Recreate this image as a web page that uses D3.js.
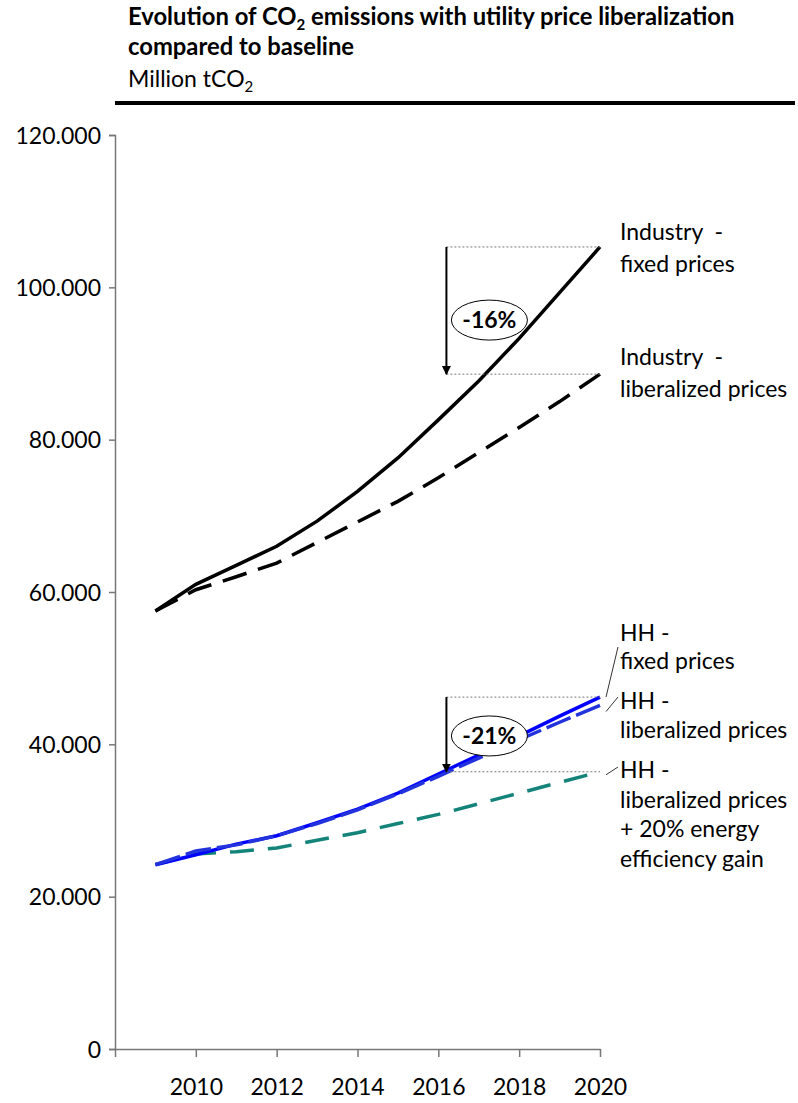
<!DOCTYPE html>
<html>
<head>
<meta charset="utf-8">
<script src="https://cdn.jsdelivr.net/npm/d3@7"></script>
<style>
  body { margin: 0; background: #fff; }
  svg text { font-family: Lato, "Open Sans", sans-serif; fill: #000; }
</style>
</head>
<body>
<svg id="chart" width="798" height="1103"></svg>
<script>
const years = [2009, 2010, 2011, 2012, 2013, 2014, 2015, 2016, 2017, 2018, 2019, 2020];
const industryFixed = [57.5, 61.0, 63.5, 66.0, 69.3, 73.2, 77.6, 82.6, 87.7, 93.3, 99.3, 105.3];
const industryLib   = [57.5, 60.3, 62.0, 63.8, 66.5, 69.2, 71.9, 75.0, 78.3, 81.6, 85.0, 88.6];
const hhFixed       = [24.2, 25.5, 26.9, 28.0, 29.7, 31.5, 33.6, 36.1, 38.6, 41.1, 43.7, 46.2];
const hhLib         = [24.2, 26.0, 26.8, 28.0, 29.6, 31.4, 33.5, 35.8, 38.2, 40.6, 42.9, 45.1];
const hhLibEff      = [24.2, 25.6, 25.9, 26.4, 27.4, 28.4, 29.6, 30.8, 32.2, 33.6, 35.0, 36.4];
const yTicks = [0, 20, 40, 60, 80, 100, 120];
const xTicks = [2010, 2012, 2014, 2016, 2018, 2020];

const FS = 23;
let svg = d3.select('#chart');

let x = d3.scaleLinear().domain([2008, 2020]).range([115, 600]);
let y = d3.scaleLinear().domain([0, 120]).range([1049, 135]);

// title block
let title = svg.append('g');
let t1 = title.append('text').attr('x', 128).attr('y', 25).attr('font-size', 23.8).attr('font-weight', 'bold');
t1.append('tspan').text('Evolution of CO');
t1.append('tspan').text('2').attr('font-size', 15).attr('dy', 5);
t1.append('tspan').text(' emissions with utility price liberalization').attr('dy', -5);
title.append('text').attr('x', 128).attr('y', 55).attr('font-size', 23.8).attr('font-weight', 'bold')
    .text('compared to baseline');
let t3 = title.append('text').attr('x', 128).attr('y', 87).attr('font-size', FS);
t3.append('tspan').text('Million tCO');
t3.append('tspan').text('2').attr('font-size', 15).attr('dy', 5);
title.append('line').attr('x1', 115).attr('x2', 795).attr('y1', 103).attr('y2', 103)
    .attr('stroke', '#000').attr('stroke-width', 4);

// axes
let yAxis = svg.append('g').attr('transform', 'translate(115,0)')
    .call(d3.axisLeft(y).tickValues(yTicks).tickSize(6).tickSizeOuter(6).tickPadding(8)
        .tickFormat(d => d === 0 ? '0' : d3.format('.3f')(d)));
yAxis.selectAll('text').attr('font-size', FS).attr('font-family', 'Lato, sans-serif')
    .attr('fill', '#000').attr('dy', '0.35em');
yAxis.selectAll('line').attr('stroke', '#777').attr('stroke-width', 1.5);
yAxis.select('.domain').attr('stroke', '#777').attr('stroke-width', 1.5);

let xAxis = svg.append('g').attr('transform', 'translate(0,' + y(0) + ')')
    .call(d3.axisBottom(x).tickValues([2008].concat(xTicks)).tickSize(8).tickSizeOuter(0).tickPadding(22)
        .tickFormat(d => d === 2008 ? '' : d));
xAxis.selectAll('text').attr('font-size', FS).attr('font-family', 'Lato, sans-serif')
    .attr('font-weight', 'normal').attr('fill', '#000');
xAxis.selectAll('line').attr('stroke', '#777').attr('stroke-width', 1.5);
xAxis.select('.domain').attr('stroke', '#777').attr('stroke-width', 1.5);

// series
let line = d3.line().x((d, i) => x(years[i])).y(d => y(d));
let series = [
    {values: hhLibEff, color: '#14837a', dash: '24,14'},
    {values: hhFixed, color: '#0000ff', dash: null},
    {values: hhLib, color: '#2233dd', dash: '26,6'},
    {values: industryLib, color: '#000', dash: '25,12'},
    {values: industryFixed, color: '#000', dash: null}
];
svg.append('g').selectAll('path').data(series).enter().append('path')
    .attr('d', s => line(s.values))
    .attr('fill', 'none')
    .attr('stroke', s => s.color)
    .attr('stroke-width', 3.5)
    .attr('stroke-dasharray', s => s.dash);

// change annotations
let arrowYear = 2016.2;
let last = years.length - 1;
let changes = [
    {from: industryFixed[last], to: industryLib[last], label: '-16%', ly: 95.7},
    {from: hhFixed[last], to: hhLibEff[last], label: '-21%', ly: 41.1}
];
let defs = svg.append('defs');
defs.append('marker').attr('id', 'arrow').attr('viewBox', '0 0 10 10')
    .attr('refX', 9).attr('refY', 5).attr('markerWidth', 4.5).attr('markerHeight', 5)
    .attr('orient', 'auto').attr('markerUnits', 'strokeWidth')
    .append('path').attr('d', 'M0,0L10,5L0,10Z').attr('fill', '#000');

let ann = svg.append('g');
changes.forEach(c => {
    [c.from, c.to].forEach(v => {
        ann.append('line').attr('x1', x(arrowYear)).attr('x2', x(2020))
            .attr('y1', y(v)).attr('y2', y(v))
            .attr('stroke', '#777').attr('stroke-width', 1).attr('stroke-dasharray', '2,2');
    });
    ann.append('line').attr('x1', x(arrowYear)).attr('x2', x(arrowYear))
        .attr('y1', y(c.from)).attr('y2', y(c.to))
        .attr('stroke', '#000').attr('stroke-width', 2).attr('marker-end', 'url(#arrow)');
    let cx = x(arrowYear) + 43;
    ann.append('ellipse').attr('cx', cx).attr('cy', y(c.ly)).attr('rx', 38).attr('ry', 20)
        .attr('fill', '#fff').attr('stroke', '#000').attr('stroke-width', 1);
    ann.append('text').attr('x', cx).attr('y', y(c.ly)).attr('dy', '0.36em')
        .attr('text-anchor', 'middle').attr('font-size', FS).attr('font-weight', 'bold').text(c.label);
});

// series labels
let labels = [
    {lines: ['Industry  -', 'fixed prices'], y0: 240, gap: 32},
    {lines: ['Industry  -', 'liberalized prices'], y0: 365, gap: 32},
    {lines: ['HH -', 'fixed prices'], y0: 641, gap: 28},
    {lines: ['HH -', 'liberalized prices'], y0: 709, gap: 29},
    {lines: ['HH -', 'liberalized prices', '+ 20% energy', 'efficiency gain'], y0: 778, gap: 29.5}
];
let lab = svg.append('g');
labels.forEach(l => {
    l.lines.forEach((s, i) => {
        lab.append('text').attr('x', 620).attr('y', l.y0 + i * l.gap).attr('font-size', FS)
            .attr('xml:space', 'preserve').text(s);
    });
});

// leader lines for HH labels
let leaders = [
    {v: hhFixed[last], ty: 647},
    {v: hhLib[last] - 0.8, ty: 697},
    {v: hhLibEff[last] - 0.4, ty: 767}
];
lab.selectAll('line.leader').data(leaders).enter().append('line')
    .attr('x1', x(2020) + 6).attr('y1', d => y(d.v))
    .attr('x2', 618).attr('y2', d => d.ty)
    .attr('stroke', '#000').attr('stroke-width', 0.8);
</script>
</body>
</html>
